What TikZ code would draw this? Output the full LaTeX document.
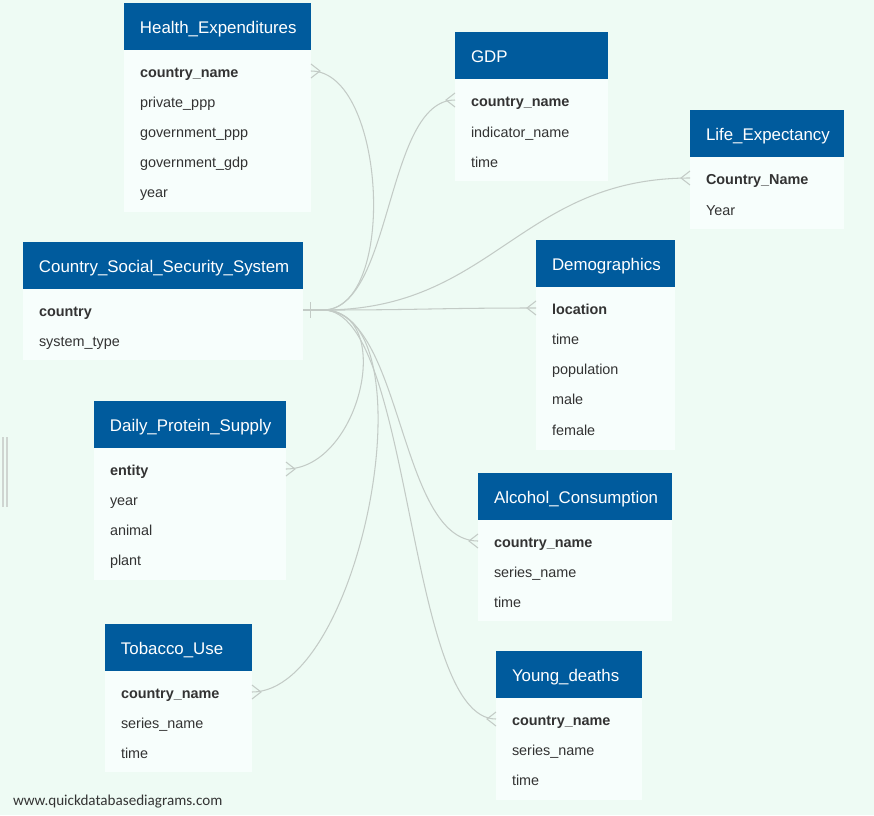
\documentclass[tikz,border=0pt]{standalone}
\usepackage{fontspec}
\setmainfont{Liberation Sans}
\newfontfamily\sitefont{Carlito}
\usepackage{tikz}
\usetikzlibrary{calc,arrows.meta}
\definecolor{bgmint}{HTML}{EEFBF4}
\definecolor{hdrblue}{HTML}{005B9D}
\definecolor{bodywhite}{HTML}{F7FEFC}
\definecolor{linkgray}{HTML}{C3CBC6}
\definecolor{fieldtext}{HTML}{333333}
\tikzset{
	every node/.style={draw=none,rectangle,outer sep=0pt,inner sep=0pt},
	tblhead/.style={fill=hdrblue,text=white,anchor=north west,minimum height=0.94cm,inner xsep=0.32cm,align=left,text height=0.96em,text depth=0.2em,font=\fontsize{9.6}{11}\selectfont},
	tblbody/.style={fill=bodywhite,anchor=north},
	field/.style={anchor=west,text=fieldtext,text height=0.85em,text depth=0.16em,font=\fontsize{8.2}{10}\selectfont},
	keyfield/.style={field,font=\fontsize{8.2}{10}\selectfont\bfseries},
	link/.style={draw=linkgray,line width=0.6pt}
	}
% crow's foot at a table edge, #2 = 9 (right side) or -9 (left side)
\newcommand{\crowfoot}[2]{\draw[link] ($(#1)+(0,-7)$) -- ($(#1)+(#2,0)$) -- ($(#1)+(0,7)$);}

\begin{document}
\begin{tikzpicture}[x=0.02cm,y=-0.02cm]
          \fill[bgmint] (0,0) rectangle (874,815);
          \draw[linkgray!80,line width=0.6pt] (3,437) -- (3,507) (7,437) -- (7,507);

          % tables
          \node[tblhead,text width=3.10cm] (he) at (124,3) {Health\_Expenditures};
          \node[tblbody,minimum width=3.74cm,minimum height=3.24cm] (he-body) at (he.south) {};
          \node[keyfield] (he-k) at (140,71) {country\_name};
          \node[field] (he-2) at (140,101) {private\_ppp};
          \node[field] (he-3) at (140,131) {government\_ppp};
          \node[field] (he-4) at (140,161) {government\_gdp};
          \node[field] (he-5) at (140,191) {year};

          \node[tblhead,text width=2.42cm] (gdp) at (455,32) {GDP};
          \node[tblbody,minimum width=3.06cm,minimum height=2.04cm] (gdp-body) at (gdp.south) {};
          \node[keyfield] (gdp-k) at (471,100) {country\_name};
          \node[field] (gdp-2) at (471,131) {indicator\_name};
          \node[field] (gdp-3) at (471,161) {time};

          \node[tblhead,text width=2.44cm] (le) at (690,110) {Life\_Expectancy};
          \node[tblbody,minimum width=3.08cm,minimum height=1.44cm] (le-body) at (le.south) {};
          \node[keyfield] (le-k) at (706,178) {Country\_Name};
          \node[field] (le-2) at (706,209) {Year};

          \node[tblhead,text width=4.96cm] (cs) at (23,242) {Country\_Social\_Security\_System};
          \node[tblbody,minimum width=5.60cm,minimum height=1.42cm] (cs-body) at (cs.south) {};
          \node[keyfield] (cs-k) at (39,310) {country};
          \node[field] (cs-2) at (39,340) {system\_type};

          \node[tblhead,text width=2.14cm] (dm) at (536,240) {Demographics};
          \node[tblbody,minimum width=2.78cm,minimum height=3.26cm] (dm-body) at (dm.south) {};
          \node[keyfield] (dm-k) at (552,308) {location};
          \node[field] (dm-2) at (552,338) {time};
          \node[field] (dm-3) at (552,368) {population};
          \node[field] (dm-4) at (552,398) {male};
          \node[field] (dm-5) at (552,429) {female};

          \node[tblhead,text width=3.20cm] (dp) at (94,401) {Daily\_Protein\_Supply};
          \node[tblbody,minimum width=3.84cm,minimum height=2.64cm] (dp-body) at (dp.south) {};
          \node[keyfield] (dp-k) at (110,469) {entity};
          \node[field] (dp-2) at (110,499) {year};
          \node[field] (dp-3) at (110,529) {animal};
          \node[field] (dp-4) at (110,559) {plant};

          \node[tblhead,text width=3.24cm] (ac) at (478,473) {Alcohol\_Consumption};
          \node[tblbody,minimum width=3.88cm,minimum height=2.02cm] (ac-body) at (ac.south) {};
          \node[keyfield] (ac-k) at (494,541) {country\_name};
          \node[field] (ac-2) at (494,571) {series\_name};
          \node[field] (ac-3) at (494,601) {time};

          \node[tblhead,text width=2.30cm] (tu) at (105,624) {Tobacco\_Use};
          \node[tblbody,minimum width=2.94cm,minimum height=2.02cm] (tu-body) at (tu.south) {};
          \node[keyfield] (tu-k) at (121,692) {country\_name};
          \node[field] (tu-2) at (121,722) {series\_name};
          \node[field] (tu-3) at (121,752) {time};

          \node[tblhead,text width=2.28cm] (yd) at (496,651) {Young\_deaths};
          \node[tblbody,minimum width=2.92cm,minimum height=2.04cm] (yd-body) at (yd.south) {};
          \node[keyfield] (yd-k) at (512,719) {country\_name};
          \node[field] (yd-2) at (512,749) {series\_name};
          \node[field] (yd-3) at (512,779) {time};

          % relations
          \coordinate (hub) at (323,310);
          \draw[link] (cs-body.east |- cs-k) -- (hub);
          \draw[link] ($(cs-body.east |- cs-k)+(8,-8)$) -- ($(cs-body.east |- cs-k)+(8,8)$);

          \draw[link] (hub) .. controls +(75,0) and +(75,0) .. (he-body.east |- he-k);
          \draw[link] (hub) .. controls +(70,0) and +(-70,0) .. (gdp-body.west |- gdp-k);
          \draw[link] (hub) .. controls +(170,0) and +(-170,0) .. (le-body.west |- le-k);
          \draw[link] (hub) .. controls +(100,0) and +(-100,0) .. (dm-body.west |- dm-k);
          \draw[link] (hub) .. controls +(74,0) and +(74,0) .. (dp-body.east |- dp-k);
          \draw[link] (hub) .. controls +(80,0) and +(-80,0) .. (ac-body.west |- ac-k);
          \draw[link] (hub) .. controls +(110,0) and +(110,0) .. (tu-body.east |- tu-k);
          \draw[link] (hub) .. controls +(90,0) and +(-90,0) .. (yd-body.west |- yd-k);

          \crowfoot{he-body.east |- he-k}{9}
          \crowfoot{gdp-body.west |- gdp-k}{-9}
          \crowfoot{le-body.west |- le-k}{-9}
          \crowfoot{dm-body.west |- dm-k}{-9}
          \crowfoot{dp-body.east |- dp-k}{9}
          \crowfoot{ac-body.west |- ac-k}{-9}
          \crowfoot{tu-body.east |- tu-k}{9}
          \crowfoot{yd-body.west |- yd-k}{-9}

          \node[anchor=west,text=fieldtext,font=\sitefont\fontsize{8.6}{10}\selectfont] (site) at (13,802) {www.quickdatabasediagrams.com};
        \end{tikzpicture}
\end{document}
